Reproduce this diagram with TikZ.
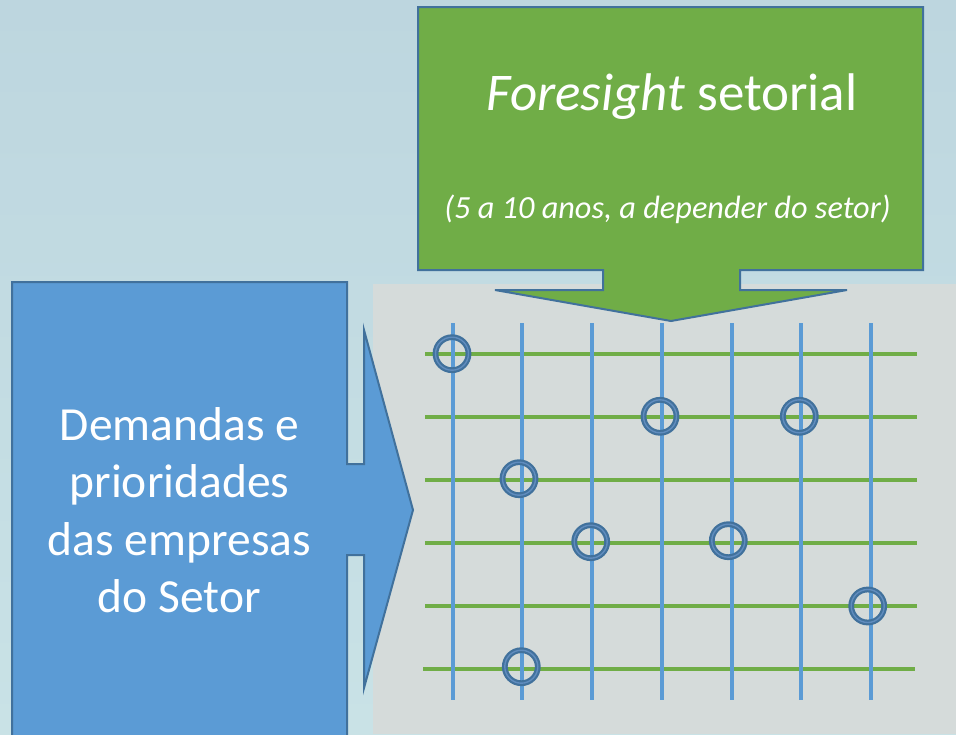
\documentclass[tikz,border=0pt]{standalone}
\usepackage{fontspec}
\setmainfont{Carlito}
\definecolor{bgtop}{RGB}{189,214,223}
\definecolor{bgbot}{RGB}{201,226,230}
\definecolor{panel}{RGB}{213,219,218}
\definecolor{arrowblue}{RGB}{91,155,213}
\definecolor{arrowgreen}{RGB}{112,173,71}
\definecolor{borderblue}{RGB}{65,113,156}
\definecolor{gridblue}{RGB}{91,155,213}
\definecolor{gridgreen}{RGB}{112,173,71}
\definecolor{ringlight}{RGB}{96,140,190}
\begin{document}
\begin{tikzpicture}[x=1pt,y=-1pt,
  edge/.style={draw=borderblue, line width=2pt, line join=miter},
  vline/.style={draw=gridblue, line width=4pt},
  hline/.style={draw=gridgreen, line width=4pt},
  ring/.style={circle, inner sep=0pt, minimum size=33pt, draw=borderblue, line width=2.2pt, double=ringlight, double distance=1.4pt},
  whitetext/.style={anchor=base, text=white, inner sep=0pt},
  bigfont/.style={font=\fontsize{47.5}{57}\selectfont}
  ]
\useasboundingbox (0,0) rectangle (956,734);
\clip (0,0) rectangle (956,734);
\shade[top color=bgtop, bottom color=bgbot] (0,0) rectangle (956,734);
% grey panel
\fill[panel] (373,284) rectangle (956,734);
% grid
\foreach \y in {353.7,417,480,543,606} \draw[hline] (425,\y) -- (917,\y);
\draw[hline] (423,669.3) -- (915,669.3);
\foreach \x in {452.7,522.3,592,662,731.7,801.3,871} \draw[vline] (\x,323) -- (\x,700);
% circles
\node[ring] (c1) at (452,353.7) {};
\node[ring] (c2) at (660,416.3) {};
\node[ring] (c3) at (799.3,416.3) {};
\node[ring] (c4) at (519,478.7) {};
\node[ring] (c5) at (590.7,541.7) {};
\node[ring] (c6) at (728.3,540.7) {};
\node[ring] (c7) at (867.7,606) {};
\node[ring] (c8) at (521.3,666.7) {};
% blue right-arrow callout
\draw[edge, fill=arrowblue] (12,282) -- (347,282) -- (347,464) -- (364,464) -- (364,330) -- (413,510) -- (364,688) -- (364,555) -- (347,555) -- (347,745) -- (12,745) -- cycle;
% green down-arrow callout
\draw[edge, fill=arrowgreen] (418,7) -- (923,7) -- (923,270) -- (740,270) -- (740,290) -- (847,290) -- (671,321) -- (495,290) -- (603,290) -- (603,270) -- (418,270) -- cycle;
% texts
\node[whitetext, font=\fontsize{53}{63}\selectfont] (fs) at (672,110) {\textit{Foresight} setorial};
\node[whitetext, font=\fontsize{32.3}{38}\selectfont\itshape] (yrs) at (667.5,218) {(5 a 10 anos, a depender do setor)};
\node[whitetext, bigfont] (l1) at (179.5,440.5) {Demandas e};
\node[whitetext, bigfont] (l2) at (179.5,497.5) {prioridades};
\node[whitetext, bigfont] (l3) at (179.5,555) {das empresas};
\node[whitetext, bigfont] (l4) at (179.5,612.5) {do Setor};
\end{tikzpicture}
\end{document}
